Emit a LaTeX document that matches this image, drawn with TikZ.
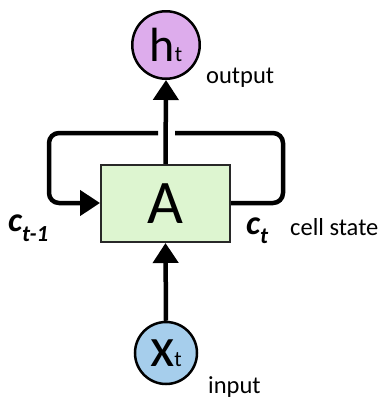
\documentclass[tikz,border=0pt]{standalone}
\usepackage{fontspec}
\setmainfont{Carlito}
\usetikzlibrary{arrows.meta}
\definecolor{boxfill}{RGB}{221,245,208}
\definecolor{boxline}{RGB}{40,40,40}
\definecolor{hfill}{RGB}{221,172,236}
\definecolor{xfill}{RGB}{166,206,236}
\tikzset{
  conn/.style={line width=4.5pt, black},
  arr/.style={conn, -{Triangle[length=20pt,width=25pt]}},
  cellbox/.style={draw=boxline, line width=2pt, fill=boxfill, minimum width=129pt, minimum height=77pt, inner sep=0pt},
  state/.style={circle, draw=black, line width=2.5pt, inner sep=0pt},
  lbl/.style={font=\fontsize{24.5}{28}\selectfont, inner sep=0pt, anchor=base west},
  cvar/.style={font=\bfseries\itshape\fontsize{34}{38}\selectfont, inner sep=0pt, anchor=base west}
}
\begin{document}
\begin{tikzpicture}[x=1pt,y=-1pt]
\useasboundingbox (0,0) rectangle (381,400);
\node[cellbox] (A) at (165.5,203.5) {\fontsize{62}{70}\selectfont A};
\node[state, fill=hfill, minimum size=67.5pt] (h) at (166,45) {\fontsize{48}{52}\selectfont h\fontsize{22}{26}\selectfont t};
\node[state, fill=xfill, minimum size=62pt] (x) at (166,353) {\fontsize{56}{60}\selectfont x\fontsize{22}{26}\selectfont t};
\node[lbl] (out) at (206,83) {output};
\node[lbl] (in) at (208,393) {input};
\node[lbl] (cs) at (290,235) {cell state};
\node[cvar] (cprev) at (8,231) {c\fontsize{23}{26}\selectfont\raisebox{-10pt}{t-1}};
\node[cvar] (cnow) at (246,234) {c\fontsize{23}{26}\selectfont\raisebox{-9pt}{t}};
\coordinate (R1) at (283,203);
\coordinate (R2) at (283,133);
\coordinate (G1) at (175,133);
\coordinate (G2) at (158,133);
\coordinate (L2) at (49,133);
\coordinate (L1) at (49,203);
\draw[arr] (x.north) -- (A.south);
\draw[arr] (A.north) -- (h.south);
\draw[conn, rounded corners=10pt] (A.east |- R1) -- (R1) -- (R2) -- (G1);
\draw[arr, rounded corners=10pt] (G2) -- (L2) -- (L1) -- (A.west |- L1);
\end{tikzpicture}
\end{document}
